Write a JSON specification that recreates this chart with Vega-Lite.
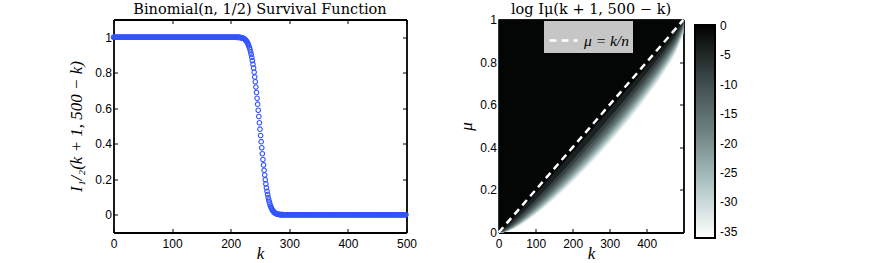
{
  "$schema": "https://vega.github.io/schema/vega-lite/v6.json",
  "padding": {"left": 67.5, "top": 1.5, "right": 0, "bottom": 0},
  "background": "white",
  "datasets": {
    "surv": [
      {"k":0,"p":1},{"k":1,"p":1},{"k":2,"p":1},{"k":3,"p":1},{"k":4,"p":1},{"k":5,"p":1},{"k":6,"p":1},{"k":7,"p":1},{"k":8,"p":1},{"k":9,"p":1},
      {"k":10,"p":1},{"k":11,"p":1},{"k":12,"p":1},{"k":13,"p":1},{"k":14,"p":1},{"k":15,"p":1},{"k":16,"p":1},{"k":17,"p":1},{"k":18,"p":1},{"k":19,"p":1},
      {"k":20,"p":1},{"k":21,"p":1},{"k":22,"p":1},{"k":23,"p":1},{"k":24,"p":1},{"k":25,"p":1},{"k":26,"p":1},{"k":27,"p":1},{"k":28,"p":1},{"k":29,"p":1},
      {"k":30,"p":1},{"k":31,"p":1},{"k":32,"p":1},{"k":33,"p":1},{"k":34,"p":1},{"k":35,"p":1},{"k":36,"p":1},{"k":37,"p":1},{"k":38,"p":1},{"k":39,"p":1},
      {"k":40,"p":1},{"k":41,"p":1},{"k":42,"p":1},{"k":43,"p":1},{"k":44,"p":1},{"k":45,"p":1},{"k":46,"p":1},{"k":47,"p":1},{"k":48,"p":1},{"k":49,"p":1},
      {"k":50,"p":1},{"k":51,"p":1},{"k":52,"p":1},{"k":53,"p":1},{"k":54,"p":1},{"k":55,"p":1},{"k":56,"p":1},{"k":57,"p":1},{"k":58,"p":1},{"k":59,"p":1},
      {"k":60,"p":1},{"k":61,"p":1},{"k":62,"p":1},{"k":63,"p":1},{"k":64,"p":1},{"k":65,"p":1},{"k":66,"p":1},{"k":67,"p":1},{"k":68,"p":1},{"k":69,"p":1},
      {"k":70,"p":1},{"k":71,"p":1},{"k":72,"p":1},{"k":73,"p":1},{"k":74,"p":1},{"k":75,"p":1},{"k":76,"p":1},{"k":77,"p":1},{"k":78,"p":1},{"k":79,"p":1},
      {"k":80,"p":1},{"k":81,"p":1},{"k":82,"p":1},{"k":83,"p":1},{"k":84,"p":1},{"k":85,"p":1},{"k":86,"p":1},{"k":87,"p":1},{"k":88,"p":1},{"k":89,"p":1},
      {"k":90,"p":1},{"k":91,"p":1},{"k":92,"p":1},{"k":93,"p":1},{"k":94,"p":1},{"k":95,"p":1},{"k":96,"p":1},{"k":97,"p":1},{"k":98,"p":1},{"k":99,"p":1},
      {"k":100,"p":1},{"k":101,"p":1},{"k":102,"p":1},{"k":103,"p":1},{"k":104,"p":1},{"k":105,"p":1},{"k":106,"p":1},{"k":107,"p":1},{"k":108,"p":1},{"k":109,"p":1},
      {"k":110,"p":1},{"k":111,"p":1},{"k":112,"p":1},{"k":113,"p":1},{"k":114,"p":1},{"k":115,"p":1},{"k":116,"p":1},{"k":117,"p":1},{"k":118,"p":1},{"k":119,"p":1},
      {"k":120,"p":1},{"k":121,"p":1},{"k":122,"p":1},{"k":123,"p":1},{"k":124,"p":1},{"k":125,"p":1},{"k":126,"p":1},{"k":127,"p":1},{"k":128,"p":1},{"k":129,"p":1},
      {"k":130,"p":1},{"k":131,"p":1},{"k":132,"p":1},{"k":133,"p":1},{"k":134,"p":1},{"k":135,"p":1},{"k":136,"p":1},{"k":137,"p":1},{"k":138,"p":1},{"k":139,"p":1},
      {"k":140,"p":1},{"k":141,"p":1},{"k":142,"p":1},{"k":143,"p":1},{"k":144,"p":1},{"k":145,"p":1},{"k":146,"p":1},{"k":147,"p":1},{"k":148,"p":1},{"k":149,"p":1},
      {"k":150,"p":1},{"k":151,"p":1},{"k":152,"p":1},{"k":153,"p":1},{"k":154,"p":1},{"k":155,"p":1},{"k":156,"p":1},{"k":157,"p":1},{"k":158,"p":1},{"k":159,"p":1},
      {"k":160,"p":1},{"k":161,"p":1},{"k":162,"p":1},{"k":163,"p":1},{"k":164,"p":1},{"k":165,"p":1},{"k":166,"p":1},{"k":167,"p":1},{"k":168,"p":1},{"k":169,"p":1},
      {"k":170,"p":1},{"k":171,"p":1},{"k":172,"p":1},{"k":173,"p":1},{"k":174,"p":1},{"k":175,"p":1},{"k":176,"p":1},{"k":177,"p":1},{"k":178,"p":1},{"k":179,"p":1},
      {"k":180,"p":1},{"k":181,"p":1},{"k":182,"p":1},{"k":183,"p":1},{"k":184,"p":1},{"k":185,"p":1},{"k":186,"p":1},{"k":187,"p":1},{"k":188,"p":1},{"k":189,"p":1},
      {"k":190,"p":1},{"k":191,"p":1},{"k":192,"p":1},{"k":193,"p":1},{"k":194,"p":1},{"k":195,"p":1},{"k":196,"p":1},{"k":197,"p":1},{"k":198,"p":1},{"k":199,"p":1},
      {"k":200,"p":1},{"k":201,"p":1},{"k":202,"p":1},{"k":203,"p":1},{"k":204,"p":1},{"k":205,"p":1},{"k":206,"p":1},{"k":207,"p":1},{"k":208,"p":1},{"k":209,"p":1},
      {"k":210,"p":0.9998},{"k":211,"p":0.9997},{"k":212,"p":0.9996},{"k":213,"p":0.9995},{"k":214,"p":0.9993},{"k":215,"p":0.999},{"k":216,"p":0.9986},{"k":217,"p":0.9982},{"k":218,"p":0.9976},{"k":219,"p":0.9968},
      {"k":220,"p":0.9958},{"k":221,"p":0.9946},{"k":222,"p":0.993},{"k":223,"p":0.9911},{"k":224,"p":0.9887},{"k":225,"p":0.9858},{"k":226,"p":0.9822},{"k":227,"p":0.9779},{"k":228,"p":0.9728},{"k":229,"p":0.9666},
      {"k":230,"p":0.9594},{"k":231,"p":0.951},{"k":232,"p":0.9412},{"k":233,"p":0.93},{"k":234,"p":0.9172},{"k":235,"p":0.9027},{"k":236,"p":0.8864},{"k":237,"p":0.8682},{"k":238,"p":0.8482},{"k":239,"p":0.8262},
      {"k":240,"p":0.8023},{"k":241,"p":0.7765},{"k":242,"p":0.7488},{"k":243,"p":0.7195},{"k":244,"p":0.6886},{"k":245,"p":0.6563},{"k":246,"p":0.6229},{"k":247,"p":0.5885},{"k":248,"p":0.5534},{"k":249,"p":0.5178},
      {"k":250,"p":0.4822},{"k":251,"p":0.4466},{"k":252,"p":0.4115},{"k":253,"p":0.3771},{"k":254,"p":0.3437},{"k":255,"p":0.3114},{"k":256,"p":0.2805},{"k":257,"p":0.2512},{"k":258,"p":0.2235},{"k":259,"p":0.1977},
      {"k":260,"p":0.1738},{"k":261,"p":0.1518},{"k":262,"p":0.1318},{"k":263,"p":0.1136},{"k":264,"p":0.0973},{"k":265,"p":0.0828},{"k":266,"p":0.07},{"k":267,"p":0.0588},{"k":268,"p":0.049},{"k":269,"p":0.0406},
      {"k":270,"p":0.0334},{"k":271,"p":0.0272},{"k":272,"p":0.0221},{"k":273,"p":0.0178},{"k":274,"p":0.0142},{"k":275,"p":0.0113},{"k":276,"p":0.0089},{"k":277,"p":0.007},{"k":278,"p":0.0054},{"k":279,"p":0.0042},
      {"k":280,"p":0.0032},{"k":281,"p":0.0024},{"k":282,"p":0.0018},{"k":283,"p":0.0014},{"k":284,"p":0.001},{"k":285,"p":0.0007},{"k":286,"p":0.0005},{"k":287,"p":0.0004},{"k":288,"p":0.0003},{"k":289,"p":0.0002},
      {"k":290,"p":0.0001},{"k":291,"p":0},{"k":292,"p":0},{"k":293,"p":0},{"k":294,"p":0},{"k":295,"p":0},{"k":296,"p":0},{"k":297,"p":0},{"k":298,"p":0},{"k":299,"p":0},
      {"k":300,"p":0},{"k":301,"p":0},{"k":302,"p":0},{"k":303,"p":0},{"k":304,"p":0},{"k":305,"p":0},{"k":306,"p":0},{"k":307,"p":0},{"k":308,"p":0},{"k":309,"p":0},
      {"k":310,"p":0},{"k":311,"p":0},{"k":312,"p":0},{"k":313,"p":0},{"k":314,"p":0},{"k":315,"p":0},{"k":316,"p":0},{"k":317,"p":0},{"k":318,"p":0},{"k":319,"p":0},
      {"k":320,"p":0},{"k":321,"p":0},{"k":322,"p":0},{"k":323,"p":0},{"k":324,"p":0},{"k":325,"p":0},{"k":326,"p":0},{"k":327,"p":0},{"k":328,"p":0},{"k":329,"p":0},
      {"k":330,"p":0},{"k":331,"p":0},{"k":332,"p":0},{"k":333,"p":0},{"k":334,"p":0},{"k":335,"p":0},{"k":336,"p":0},{"k":337,"p":0},{"k":338,"p":0},{"k":339,"p":0},
      {"k":340,"p":0},{"k":341,"p":0},{"k":342,"p":0},{"k":343,"p":0},{"k":344,"p":0},{"k":345,"p":0},{"k":346,"p":0},{"k":347,"p":0},{"k":348,"p":0},{"k":349,"p":0},
      {"k":350,"p":0},{"k":351,"p":0},{"k":352,"p":0},{"k":353,"p":0},{"k":354,"p":0},{"k":355,"p":0},{"k":356,"p":0},{"k":357,"p":0},{"k":358,"p":0},{"k":359,"p":0},
      {"k":360,"p":0},{"k":361,"p":0},{"k":362,"p":0},{"k":363,"p":0},{"k":364,"p":0},{"k":365,"p":0},{"k":366,"p":0},{"k":367,"p":0},{"k":368,"p":0},{"k":369,"p":0},
      {"k":370,"p":0},{"k":371,"p":0},{"k":372,"p":0},{"k":373,"p":0},{"k":374,"p":0},{"k":375,"p":0},{"k":376,"p":0},{"k":377,"p":0},{"k":378,"p":0},{"k":379,"p":0},
      {"k":380,"p":0},{"k":381,"p":0},{"k":382,"p":0},{"k":383,"p":0},{"k":384,"p":0},{"k":385,"p":0},{"k":386,"p":0},{"k":387,"p":0},{"k":388,"p":0},{"k":389,"p":0},
      {"k":390,"p":0},{"k":391,"p":0},{"k":392,"p":0},{"k":393,"p":0},{"k":394,"p":0},{"k":395,"p":0},{"k":396,"p":0},{"k":397,"p":0},{"k":398,"p":0},{"k":399,"p":0},
      {"k":400,"p":0},{"k":401,"p":0},{"k":402,"p":0},{"k":403,"p":0},{"k":404,"p":0},{"k":405,"p":0},{"k":406,"p":0},{"k":407,"p":0},{"k":408,"p":0},{"k":409,"p":0},
      {"k":410,"p":0},{"k":411,"p":0},{"k":412,"p":0},{"k":413,"p":0},{"k":414,"p":0},{"k":415,"p":0},{"k":416,"p":0},{"k":417,"p":0},{"k":418,"p":0},{"k":419,"p":0},
      {"k":420,"p":0},{"k":421,"p":0},{"k":422,"p":0},{"k":423,"p":0},{"k":424,"p":0},{"k":425,"p":0},{"k":426,"p":0},{"k":427,"p":0},{"k":428,"p":0},{"k":429,"p":0},
      {"k":430,"p":0},{"k":431,"p":0},{"k":432,"p":0},{"k":433,"p":0},{"k":434,"p":0},{"k":435,"p":0},{"k":436,"p":0},{"k":437,"p":0},{"k":438,"p":0},{"k":439,"p":0},
      {"k":440,"p":0},{"k":441,"p":0},{"k":442,"p":0},{"k":443,"p":0},{"k":444,"p":0},{"k":445,"p":0},{"k":446,"p":0},{"k":447,"p":0},{"k":448,"p":0},{"k":449,"p":0},
      {"k":450,"p":0},{"k":451,"p":0},{"k":452,"p":0},{"k":453,"p":0},{"k":454,"p":0},{"k":455,"p":0},{"k":456,"p":0},{"k":457,"p":0},{"k":458,"p":0},{"k":459,"p":0},
      {"k":460,"p":0},{"k":461,"p":0},{"k":462,"p":0},{"k":463,"p":0},{"k":464,"p":0},{"k":465,"p":0},{"k":466,"p":0},{"k":467,"p":0},{"k":468,"p":0},{"k":469,"p":0},
      {"k":470,"p":0},{"k":471,"p":0},{"k":472,"p":0},{"k":473,"p":0},{"k":474,"p":0},{"k":475,"p":0},{"k":476,"p":0},{"k":477,"p":0},{"k":478,"p":0},{"k":479,"p":0},
      {"k":480,"p":0},{"k":481,"p":0},{"k":482,"p":0},{"k":483,"p":0},{"k":484,"p":0},{"k":485,"p":0},{"k":486,"p":0},{"k":487,"p":0},{"k":488,"p":0},{"k":489,"p":0},
      {"k":490,"p":0},{"k":491,"p":0},{"k":492,"p":0},{"k":493,"p":0},{"k":494,"p":0},{"k":495,"p":0},{"k":496,"p":0},{"k":497,"p":0},{"k":498,"p":0},{"k":499,"p":0}
    ],
    "contours": [
      {"k":0,"mu":0,"v":-35},{"k":10,"mu":0.0004,"v":-35},{"k":24,"mu":0.0055,"v":-35},{"k":49,"mu":0.0249,"v":-35},{"k":99,"mu":0.0832,"v":-35},{"k":149,"mu":0.1548,"v":-35},{"k":199,"mu":0.2354,"v":-35},{"k":249,"mu":0.3234,"v":-35},{"k":299,"mu":0.4182,"v":-35},{"k":349,"mu":0.5204,"v":-35},{"k":399,"mu":0.6316,"v":-35},{"k":449,"mu":0.7566,"v":-35},{"k":479,"mu":0.8456,"v":-35},{"k":499,"mu":0.9305,"v":-35},
      {"k":0,"mu":0,"v":-32},{"k":10,"mu":0.0005,"v":-32},{"k":24,"mu":0.006,"v":-32},{"k":49,"mu":0.0264,"v":-32},{"k":99,"mu":0.0859,"v":-32},{"k":149,"mu":0.1585,"v":-32},{"k":199,"mu":0.2398,"v":-32},{"k":249,"mu":0.3284,"v":-32},{"k":299,"mu":0.4238,"v":-32},{"k":349,"mu":0.5263,"v":-32},{"k":399,"mu":0.6372,"v":-32},{"k":449,"mu":0.7619,"v":-32},{"k":479,"mu":0.8503,"v":-32},{"k":499,"mu":0.9343,"v":-32},
      {"k":0,"mu":0,"v":-28},{"k":10,"mu":0.0007,"v":-28},{"k":24,"mu":0.0072,"v":-28},{"k":49,"mu":0.0293,"v":-28},{"k":99,"mu":0.0915,"v":-28},{"k":149,"mu":0.1663,"v":-28},{"k":199,"mu":0.2497,"v":-28},{"k":249,"mu":0.3393,"v":-28},{"k":299,"mu":0.4352,"v":-28},{"k":349,"mu":0.5379,"v":-28},{"k":399,"mu":0.649,"v":-28},{"k":449,"mu":0.7727,"v":-28},{"k":479,"mu":0.8596,"v":-28},{"k":499,"mu":0.9418,"v":-28},
      {"k":0,"mu":0,"v":-24},{"k":10,"mu":0.0009,"v":-24},{"k":24,"mu":0.0087,"v":-24},{"k":49,"mu":0.0327,"v":-24},{"k":99,"mu":0.0979,"v":-24},{"k":149,"mu":0.175,"v":-24},{"k":199,"mu":0.2595,"v":-24},{"k":249,"mu":0.3502,"v":-24},{"k":299,"mu":0.4475,"v":-24},{"k":349,"mu":0.5506,"v":-24},{"k":399,"mu":0.6611,"v":-24},{"k":449,"mu":0.7838,"v":-24},{"k":479,"mu":0.8694,"v":-24},{"k":499,"mu":0.9493,"v":-24},
      {"k":0,"mu":0,"v":-20},{"k":10,"mu":0.0013,"v":-20},{"k":24,"mu":0.0105,"v":-20},{"k":49,"mu":0.0367,"v":-20},{"k":99,"mu":0.1053,"v":-20},{"k":149,"mu":0.1846,"v":-20},{"k":199,"mu":0.2713,"v":-20},{"k":249,"mu":0.3634,"v":-20},{"k":299,"mu":0.4606,"v":-20},{"k":349,"mu":0.5641,"v":-20},{"k":399,"mu":0.6745,"v":-20},{"k":449,"mu":0.7958,"v":-20},{"k":479,"mu":0.8796,"v":-20},{"k":499,"mu":0.957,"v":-20},
      {"k":0,"mu":0,"v":-16},{"k":10,"mu":0.002,"v":-16},{"k":24,"mu":0.0129,"v":-16},{"k":49,"mu":0.0415,"v":-16},{"k":99,"mu":0.1137,"v":-16},{"k":149,"mu":0.1955,"v":-16},{"k":199,"mu":0.284,"v":-16},{"k":249,"mu":0.3771,"v":-16},{"k":299,"mu":0.4756,"v":-16},{"k":349,"mu":0.5789,"v":-16},{"k":399,"mu":0.689,"v":-16},{"k":449,"mu":0.8086,"v":-16},{"k":479,"mu":0.8903,"v":-16},{"k":499,"mu":0.9646,"v":-16},
      {"k":0,"mu":0,"v":-12},{"k":10,"mu":0.003,"v":-12},{"k":24,"mu":0.0161,"v":-12},{"k":49,"mu":0.0475,"v":-12},{"k":99,"mu":0.1236,"v":-12},{"k":149,"mu":0.2082,"v":-12},{"k":199,"mu":0.2988,"v":-12},{"k":249,"mu":0.3936,"v":-12},{"k":299,"mu":0.4927,"v":-12},{"k":349,"mu":0.5962,"v":-12},{"k":399,"mu":0.7049,"v":-12},{"k":449,"mu":0.8224,"v":-12},{"k":479,"mu":0.9018,"v":-12},{"k":499,"mu":0.9724,"v":-12},
      {"k":0,"mu":0,"v":-8},{"k":10,"mu":0.0048,"v":-8},{"k":24,"mu":0.0202,"v":-8},{"k":49,"mu":0.055,"v":-8},{"k":99,"mu":0.1362,"v":-8},{"k":149,"mu":0.2245,"v":-8},{"k":199,"mu":0.3168,"v":-8},{"k":249,"mu":0.4132,"v":-8},{"k":299,"mu":0.5128,"v":-8},{"k":349,"mu":0.616,"v":-8},{"k":399,"mu":0.7238,"v":-8},{"k":449,"mu":0.8384,"v":-8},{"k":479,"mu":0.9145,"v":-8},{"k":499,"mu":0.9802,"v":-8},
      {"k":0,"mu":0,"v":-4},{"k":10,"mu":0.0085,"v":-4},{"k":24,"mu":0.0269,"v":-4},{"k":49,"mu":0.0665,"v":-4},{"k":99,"mu":0.153,"v":-4},{"k":149,"mu":0.2445,"v":-4},{"k":199,"mu":0.339,"v":-4},{"k":249,"mu":0.437,"v":-4},{"k":299,"mu":0.5375,"v":-4},{"k":349,"mu":0.64,"v":-4},{"k":399,"mu":0.7465,"v":-4},{"k":449,"mu":0.8574,"v":-4},{"k":479,"mu":0.929,"v":-4},{"k":499,"mu":0.9881,"v":-4},
      {"k":0,"mu":0.0003,"v":-0.5},{"k":10,"mu":0.015,"v":-0.5},{"k":24,"mu":0.039,"v":-0.5},{"k":49,"mu":0.085,"v":-0.5},{"k":99,"mu":0.1797,"v":-0.5},{"k":149,"mu":0.2768,"v":-0.5},{"k":199,"mu":0.375,"v":-0.5},{"k":249,"mu":0.476,"v":-0.5},{"k":299,"mu":0.5748,"v":-0.5},{"k":349,"mu":0.676,"v":-0.5},{"k":399,"mu":0.7786,"v":-0.5},{"k":449,"mu":0.883,"v":-0.5},{"k":479,"mu":0.948,"v":-0.5},{"k":499,"mu":0.996,"v":-0.5}
    ],
    "diag": [
      {"k":0,"mu":0,"s":"μ = k/n"},{"k":499,"mu":0.998,"s":"μ = k/n"}
    ]
  },
  "spacing": 40,
  "hconcat": [
    {
      "width": 293,
      "height": 213,
      "title": {"text": "Binomial(n, 1/2) Survival Function"},
      "data": {"name": "surv"},
      "layer": [
        {
          "mark": {"type": "point", "shape": "circle", "filled": false, "color": "#3355ff", "size": 21, "strokeWidth": 1.1, "opacity": 1},
          "encoding": {
            "x": {"field": "k", "type": "quantitative", "scale": {"domain": [0, 500], "nice": false, "zero": false}, "axis": {"values": [0, 100, 200, 300, 400, 500], "title": "k"}},
            "y": {"field": "p", "type": "quantitative", "scale": {"domain": [-0.1, 1.1], "nice": false, "zero": false}, "axis": {"values": [0, 0.2, 0.4, 0.6, 0.8, 1], "format": "~g", "title": "I₁/₂(k + 1, 500 − k)", "titlePadding": 9}}
          }
        },
        {
          "transform": [{"filter": "datum.k == 0"}],
          "mark": {"type": "point", "opacity": 0, "size": 0, "strokeWidth": 0},
          "encoding": {
            "x": {"field": "k", "type": "quantitative", "scale": {"domain": [0, 500], "nice": false, "zero": false}, "axis": {"orient": "top", "values": [0, 100, 200, 300, 400, 500], "labels": false, "title": null}},
            "y": {"field": "p", "type": "quantitative", "scale": {"domain": [-0.1, 1.1], "nice": false, "zero": false}, "axis": {"orient": "right", "values": [0, 0.2, 0.4, 0.6, 0.8, 1], "labels": false, "title": null}}
          }
        }
      ],
      "resolve": {"axis": {"x": "independent", "y": "independent"}}
    },
    {
      "width": 185,
      "height": 213,
      "title": {"text": "log Iμ(k + 1, 500 − k)", "offset": -3.5},
      "layer": [
        {
          "data": {"name": "contours"},
          "mark": {"type": "area", "interpolate": "monotone", "opacity": 1},
          "encoding": {
            "x": {"field": "k", "type": "quantitative", "scale": {"domain": [-0.5, 499.5], "nice": false, "zero": false}, "axis": {"values": [0, 100, 200, 300, 400], "title": "k"}},
            "y": {"field": "mu", "type": "quantitative", "scale": {"domain": [0, 1], "nice": false}, "axis": {"values": [0, 0.2, 0.4, 0.6, 0.8, 1], "format": "~g", "title": "μ"}},
            "y2": {"datum": 1},
            "color": {
              "field": "v", "type": "quantitative",
              "scale": {"domain": [-36.04, -27.03, -18.02, -9.01, 0.15], "range": ["#ffffff", "#b0c6c6", "#6e8282", "#3c4848", "#000000"], "interpolate": "rgb", "clamp": true},
              "legend": {"title": null, "orient": "none", "legendX": 581.5, "legendY": 5.5, "direction": "vertical", "padding": 0, "gradientLength": 213, "gradientThickness": 20, "gradientStrokeColor": "black", "gradientStrokeWidth": 2, "values": [0, -5, -10, -15, -20, -25, -30, -35], "labelExpr": "'' + datum.value", "labelFont": "Liberation Sans", "labelFontSize": 12, "labelColor": "black", "labelOffset": 5, "labelBaseline": "middle", "labelOverlap": false}
            }
          }
        },
        {
          "data": {"name": "diag"},
          "mark": {"type": "line", "color": "white", "strokeWidth": 2.5},
          "encoding": {
            "x": {"field": "k", "type": "quantitative", "axis": null},
            "y": {"field": "mu", "type": "quantitative", "axis": null},
            "strokeDash": {"field": "s", "type": "nominal", "scale": {"range": [[7, 5]]},
              "legend": {"title": null, "orient": "none", "legendX": 430.5, "legendY": 1.5, "fillColor": "#c6c6c6", "padding": 4, "symbolType": "stroke", "symbolStrokeColor": "white", "symbolStrokeWidth": 2.5, "symbolSize": 784, "labelFont": "Liberation Serif", "labelFontStyle": "italic", "labelFontSize": 15.5, "labelColor": "black", "labelOffset": 5}}
          }
        },
        {
          "data": {"name": "diag"},
          "transform": [{"filter": "datum.k == 0"}],
          "mark": {"type": "point", "opacity": 0, "size": 0, "strokeWidth": 0},
          "encoding": {
            "x": {"field": "k", "type": "quantitative", "scale": {"domain": [-0.5, 499.5], "nice": false, "zero": false}, "axis": {"orient": "top", "values": [0, 100, 200, 300, 400], "labels": false, "title": null}},
            "y": {"field": "mu", "type": "quantitative", "scale": {"domain": [0, 1], "nice": false}, "axis": {"orient": "right", "values": [0, 0.2, 0.4, 0.6, 0.8, 1], "labels": false, "title": null}}
          }
        }
      ],
      "resolve": {"axis": {"x": "independent", "y": "independent"}}
    }
  ],
  "config": {
    "view": {"stroke": null},
    "axis": {"domain": true, "domainColor": "black", "domainWidth": 1.8, "grid": false, "ticks": true, "tickColor": "black", "tickSize": -4, "tickWidth": 1, "labelFont": "Liberation Sans", "labelFontSize": 12, "labelColor": "black", "labelFlush": false, "titleFont": "Liberation Serif", "titleFontStyle": "italic", "titleFontWeight": "normal", "titleFontSize": 17, "titleColor": "black", "zindex": 1},
    "axisX": {"labelPadding": 9.5, "titlePadding": -4},
    "axisY": {"labelPadding": 6, "titlePadding": 4},
    "title": {"font": "DejaVu Serif", "fontSize": 14.5, "fontWeight": "normal", "color": "black", "offset": 1.5}
  }
}
